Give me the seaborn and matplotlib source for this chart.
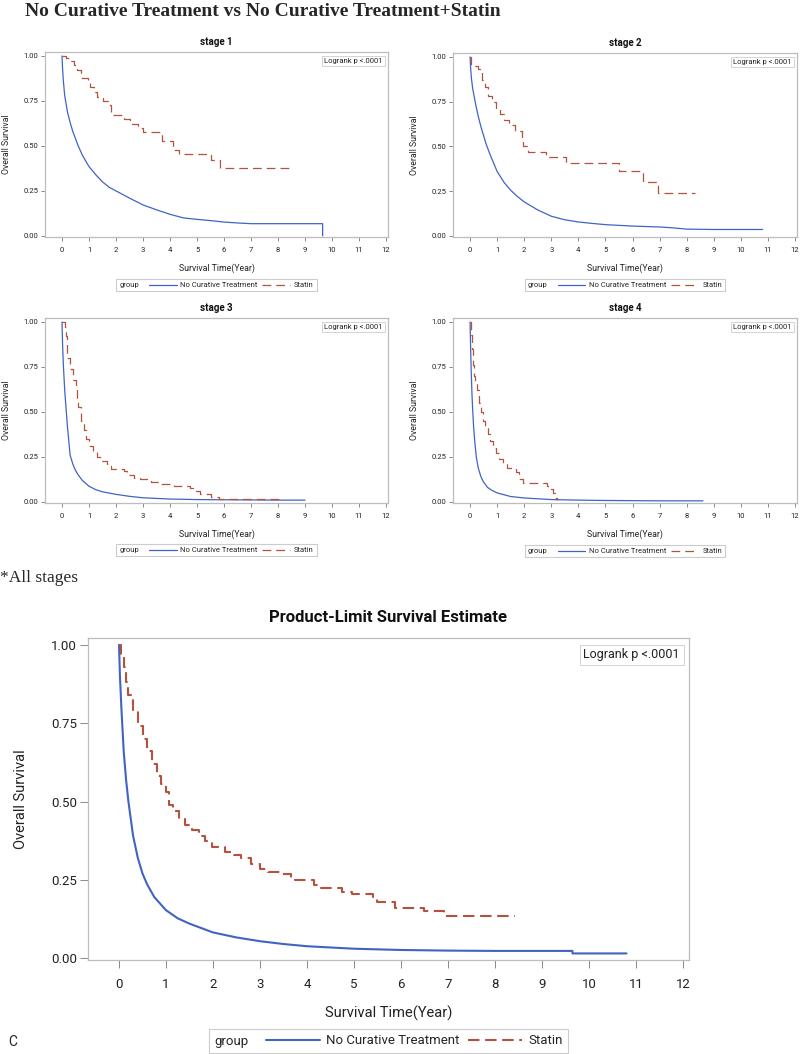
import numpy as np
import pandas as pd
import matplotlib.pyplot as plt
import seaborn as sns
from matplotlib.lines import Line2D
from matplotlib.offsetbox import HPacker

# ---- data (time in years, survival probability) ----
# stage 1
s1_nct_t = [0, 0.02, 0.05, 0.1, 0.2, 0.3, 0.4, 0.5, 0.6, 0.75, 0.9, 1.0, 1.25, 1.5, 1.75, 2.0,
            2.5, 3.0, 3.5, 4.0, 4.5, 5.0, 5.5, 6.0, 6.5, 7.0, 8.0, 9.0, 9.65, 9.65]
s1_nct_s = [1.0, 0.93, 0.86, 0.78, 0.69, 0.63, 0.58, 0.54, 0.50, 0.45, 0.41, 0.385, 0.34, 0.30, 0.27, 0.25,
            0.21, 0.172, 0.145, 0.12, 0.10, 0.092, 0.085, 0.077, 0.072, 0.068, 0.068, 0.068, 0.068, 0.0]
s1_sta_t = [0, 0.15, 0.3, 0.45, 0.55, 0.7, 0.95, 1.05, 1.2, 1.3, 1.5, 1.7, 1.8, 1.85, 2.3, 2.5, 2.8, 3.0,
            3.7, 4.1, 4.15, 4.35, 5.5, 5.85, 8.45]
s1_sta_s = [1.0, 0.99, 0.97, 0.95, 0.92, 0.88, 0.86, 0.83, 0.80, 0.77, 0.75, 0.73, 0.69, 0.67, 0.65, 0.62,
            0.60, 0.575, 0.53, 0.50, 0.48, 0.455, 0.42, 0.375, 0.375]

# stage 2
s2_nct_t = [0, 0.02, 0.05, 0.1, 0.2, 0.3, 0.4, 0.5, 0.6, 0.75, 1.0, 1.25, 1.5, 1.75, 2.0, 2.5, 3.0,
            3.5, 4.0, 4.5, 5.0, 6.0, 7.0, 7.5, 8.0, 9.0, 10.0, 10.8]
s2_nct_s = [1.0, 0.94, 0.88, 0.82, 0.74, 0.67, 0.61, 0.56, 0.51, 0.45, 0.36, 0.30, 0.255, 0.22, 0.19, 0.145,
            0.11, 0.09, 0.078, 0.07, 0.063, 0.055, 0.05, 0.045, 0.038, 0.036, 0.036, 0.036]
s2_sta_t = [0, 0.05, 0.3, 0.45, 0.55, 0.65, 0.8, 0.95, 1.1, 1.25, 1.45, 1.65, 1.9, 1.95, 2.15, 2.8, 3.55,
            5.5, 6.4, 6.95, 8.3]
s2_sta_s = [1.0, 0.95, 0.93, 0.87, 0.83, 0.78, 0.75, 0.71, 0.68, 0.65, 0.62, 0.585, 0.55, 0.50, 0.47, 0.44,
            0.41, 0.36, 0.30, 0.24, 0.24]

# stage 3
s3_nct_t = [0, 0.02, 0.05, 0.1, 0.15, 0.2, 0.3, 0.4, 0.5, 0.6, 0.75, 1.0, 1.25, 1.5, 2.0, 2.5, 3.0,
            4.0, 5.0, 6.0, 7.0, 8.0, 9.0]
s3_nct_s = [1.0, 0.88, 0.76, 0.62, 0.52, 0.42, 0.26, 0.21, 0.175, 0.15, 0.12, 0.087, 0.068, 0.056, 0.042,
            0.031, 0.023, 0.016, 0.013, 0.012, 0.011, 0.01, 0.01]
s3_sta_t = [0, 0.1, 0.15, 0.2, 0.3, 0.4, 0.5, 0.55, 0.6, 0.7, 0.8, 0.9, 1.0, 1.15, 1.3, 1.45, 1.65, 1.8,
            2.3, 2.4, 2.65, 2.9, 3.3, 3.6, 4.15, 4.75, 4.85, 5.1, 5.5, 5.8, 8.15]
s3_sta_s = [1.0, 0.97, 0.92, 0.80, 0.74, 0.68, 0.64, 0.58, 0.53, 0.45, 0.40, 0.35, 0.31, 0.28, 0.25, 0.23,
            0.20, 0.185, 0.17, 0.15, 0.135, 0.125, 0.11, 0.10, 0.09, 0.075, 0.06, 0.045, 0.03, 0.015, 0.015]

# stage 4
s4_nct_t = [0, 0.02, 0.04, 0.07, 0.1, 0.13, 0.17, 0.23, 0.3, 0.4, 0.5, 0.65, 0.8, 1.0, 1.5, 2.0, 3.0,
            4.0, 5.0, 6.0, 7.0, 8.6]
s4_nct_s = [1.0, 0.86, 0.74, 0.6, 0.5, 0.42, 0.34, 0.25, 0.19, 0.14, 0.11, 0.08, 0.065, 0.05, 0.03, 0.022,
            0.013, 0.01, 0.008, 0.007, 0.006, 0.006]
s4_sta_t = [0, 0.03, 0.06, 0.1, 0.15, 0.2, 0.27, 0.33, 0.4, 0.47, 0.55, 0.65, 0.75, 0.85, 0.95, 1.05, 1.2,
            1.35, 1.7, 1.8, 1.95, 2.85, 2.95, 3.05, 3.15, 3.2]
s4_sta_s = [1.0, 0.93, 0.85, 0.76, 0.70, 0.66, 0.62, 0.55, 0.50, 0.45, 0.42, 0.38, 0.34, 0.30, 0.27, 0.24,
            0.215, 0.19, 0.165, 0.13, 0.105, 0.09, 0.07, 0.05, 0.02, 0.01]

# all stages
all_nct_t = [0, 0.02, 0.05, 0.1, 0.15, 0.2, 0.3, 0.4, 0.5, 0.6, 0.75, 1.0, 1.25, 1.5, 2.0, 2.5, 3.0,
             3.5, 4.0, 5.0, 6.0, 7.0, 8.0, 9.65, 9.65, 10.8]
all_nct_s = [1.0, 0.9, 0.8, 0.66, 0.57, 0.5, 0.39, 0.32, 0.27, 0.235, 0.195, 0.153, 0.127, 0.11, 0.082,
             0.066, 0.054, 0.045, 0.038, 0.03, 0.026, 0.024, 0.023, 0.023, 0.015, 0.015]
all_sta_t = [0, 0.05, 0.1, 0.15, 0.2, 0.3, 0.4, 0.5, 0.6, 0.7, 0.8, 0.9, 1.0, 1.06, 1.15, 1.28, 1.4, 1.55,
             1.7, 1.82, 1.98, 2.25, 2.45, 2.6, 2.8, 3.0, 3.17, 3.45, 3.66, 3.75, 4.15, 4.3, 4.75, 4.96,
             5.4, 5.5, 5.88, 6.48, 6.92, 8.43]
all_sta_s = [1.0, 0.97, 0.93, 0.88, 0.84, 0.79, 0.74, 0.70, 0.66, 0.62, 0.58, 0.555, 0.53, 0.49, 0.47,
             0.445, 0.425, 0.41, 0.39, 0.375, 0.355, 0.34, 0.33, 0.32, 0.30, 0.285, 0.275, 0.27, 0.255,
             0.248, 0.235, 0.224, 0.211, 0.204, 0.196, 0.178, 0.161, 0.15, 0.134, 0.134]

group_labels = ['No Curative Treatment', 'Statin']
x_ticks = list(range(13))
y_ticks = [0.0, 0.25, 0.5, 0.75, 1.0]

sns.set_theme(style='white')
plt.rcParams['font.family'] = ['Roboto', 'DejaVu Sans']

BLUE = '#4163c4'
RED = '#b5523f'
W, H = 800, 1054

fig = plt.figure(figsize=(8, 10.54), dpi=100)


def px_axes(left, top, right, bottom):
    return fig.add_axes([left / W, 1 - bottom / H, (right - left) / W, (bottom - top) / H])


def km_panel(ax, nct_t, nct_s, sta_t, sta_s, fs, lab_fs, lw, dash, tick_len, xlim, ylab_x, xlab_y):
    sns.lineplot(x=nct_t, y=nct_s, ax=ax, color=BLUE, lw=lw, estimator=None, sort=False)
    sns.lineplot(x=sta_t, y=sta_s, ax=ax, color=RED, lw=lw, estimator=None, sort=False,
                 drawstyle='steps-post', linestyle=dash)
    ax.set_xlim(*xlim)
    ax.set_ylim(-0.006, 1.022)
    ax.set_xticks(x_ticks)
    ax.set_yticks(y_ticks)
    ax.set_yticklabels([f'{v:.2f}' for v in y_ticks])
    ax.tick_params(bottom=True, left=True, direction='out', length=tick_len, width=0.7,
                   color='#8a8a8a', labelsize=fs, labelcolor='#222222', pad=2)
    ax.tick_params(axis='x', pad=tick_len + 1)
    for sp in ax.spines.values():
        sp.set_color('#bdbdbd')
        sp.set_linewidth(0.9)
    ax.set_xlabel('Survival Time(Year)', fontsize=lab_fs, color='#222222')
    ax.set_ylabel('Overall Survival', fontsize=lab_fs, color='#222222')
    ax.xaxis.set_label_coords(0.5, xlab_y)
    ax.yaxis.set_label_coords(ylab_x, 0.5)
    ax.text(0.985, 0.968, 'Logrank p <.0001', transform=ax.transAxes, ha='right', va='top',
            fontsize=fs, color='#222222',
            bbox=dict(boxstyle='square,pad=0.3', fc='white', ec='#cccccc', lw=0.6))


def group_legend(ax, cy, fs, lw, dash, hl):
    pos = ax.get_position()
    handles = [Line2D([], [], color=BLUE, lw=lw),
               Line2D([], [], color=RED, lw=lw, linestyle=dash)]
    leg = ax.legend(handles, group_labels, title='group', ncol=2, loc='center',
                    bbox_to_anchor=((pos.x0 + pos.x1) / 2, 1 - cy / H), bbox_transform=fig.transFigure,
                    fontsize=fs, title_fontsize=fs, frameon=True, fancybox=False, framealpha=1,
                    edgecolor='#cccccc', borderpad=0.4, handlelength=hl, handletextpad=0.5,
                    columnspacing=0.6)
    leg.get_frame().set_linewidth(0.8)
    # put the "group" title to the left of the entries, SAS style
    old = leg._legend_box
    new = HPacker(pad=old.pad, sep=fs * 1.3, align='center', children=old.get_children())
    new.set_figure(fig)
    new.axes = ax
    leg._legend_box = new
    new.set_offset(leg._findoffset)


# main heading
fig.text(25 / W, 1 - 11 / H, 'No Curative Treatment vs No Curative Treatment+Statin',
         family='Liberation Serif', weight='bold', fontsize=14, ha='left', va='center')

panels = [
    ('stage 1', (45, 52, 388, 237), 285, s1_nct_t, s1_nct_s, s1_sta_t, s1_sta_s),
    ('stage 2', (453, 53, 797, 237), 285, s2_nct_t, s2_nct_s, s2_sta_t, s2_sta_s),
    ('stage 3', (45, 318, 388, 503), 550, s3_nct_t, s3_nct_s, s3_sta_t, s3_sta_s),
    ('stage 4', (453, 318, 797, 503), 551, s4_nct_t, s4_nct_s, s4_sta_t, s4_sta_s),
]
small_dash = (0, (7, 4))
for title, rect, leg_y, nt, ns, st, ss in panels:
    ax = px_axes(*rect)
    km_panel(ax, nt, ns, st, ss, fs=5.5, lab_fs=6.3, lw=0.9, dash=small_dash, tick_len=3,
             xlim=(-0.63, 12.07), ylab_x=-0.099, xlab_y=-0.145)
    fig.text((rect[0] + rect[2]) / 2 / W, 1 - (rect[1] - 10) / H, title, ha='center', va='center',
             fontsize=7, weight='bold', color='#111111')
    group_legend(ax, leg_y, fs=5.5, lw=0.9, dash=small_dash, hl=3.6)

fig.text(0, 1 - 578 / H, '*All stages', family='Liberation Serif', fontsize=12.5, ha='left', va='center')

# all stages panel
big_dash = (0, (5.5, 2.7))
ax = px_axes(88, 638, 689, 960)
km_panel(ax, all_nct_t, all_nct_s, all_sta_t, all_sta_s, fs=9.5, lab_fs=10.5, lw=1.5, dash=big_dash,
         tick_len=6, xlim=(-0.66, 12.13), ylab_x=-0.1, xlab_y=-0.143)
ax.texts[-1].set_fontsize(9)
fig.text(388 / W, 1 - 617 / H, 'Product-Limit Survival Estimate', ha='center', va='center',
         fontsize=12, weight='bold', color='#111111')
group_legend(ax, 1041, fs=9.5, lw=1.5, dash=big_dash, hl=4.1)
fig.text(13 / W, 1 - 1042 / H, 'C', fontsize=10, ha='center', va='center')

fig.savefig('out.png', dpi=100)
